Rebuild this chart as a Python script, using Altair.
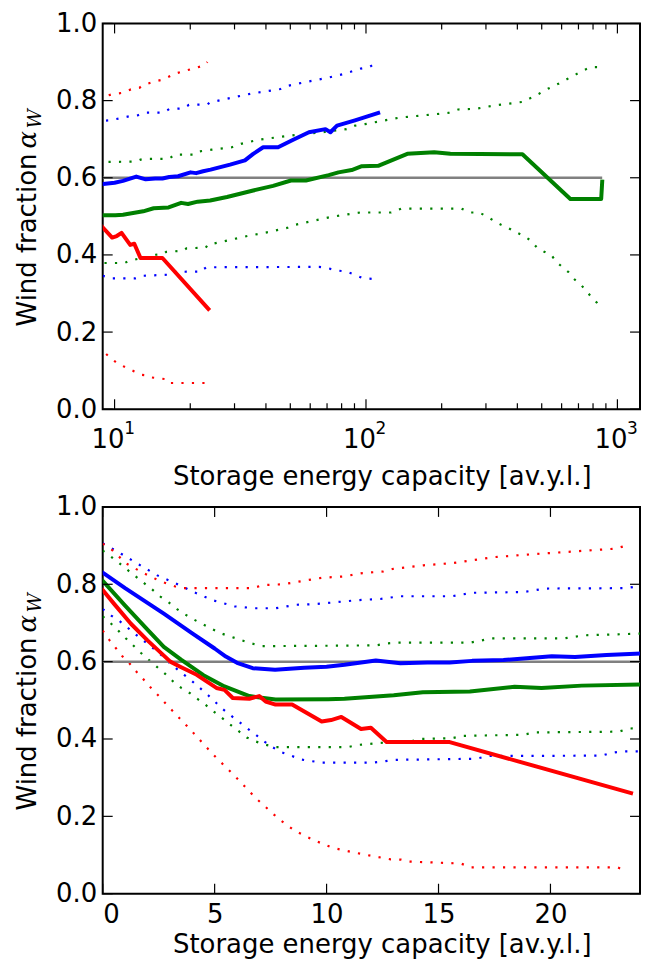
import altair as alt
import pandas as pd

# ---------------- data ----------------
# median curves (solid)
BLUE_X = [0, 1, 2, 2.73, 4, 5, 5.5, 6, 6.7, 7.7, 9, 10, 10.8, 12.2, 13.3, 14.5, 15.5, 16.5, 17.9, 20.06,
          21.1, 22.5, 24.1, 28.8, 33.0, 35.6, 39.0, 44.7, 51.1, 59.3, 69.0, 72.2, 76.7, 90.4, 111.8]
BLUE_Y = [0.83, 0.79, 0.752, 0.724, 0.673, 0.634, 0.613, 0.597, 0.583, 0.579, 0.584, 0.587, 0.592, 0.603, 0.596,
          0.598, 0.598, 0.602, 0.604, 0.614, 0.612, 0.617, 0.621, 0.634, 0.645, 0.662, 0.679, 0.679, 0.698, 0.718,
          0.726, 0.718, 0.735, 0.749, 0.768]

GREEN_X = [0, 1, 2, 2.73, 3.5, 4.5, 5.44, 6.55, 7.72, 10.07, 10.8, 13.0, 14.3, 16.4, 18.4, 19.6, 21.4, 24.0,
           28.0, 35.6, 42.7, 50.3, 57.7, 71.1, 77.7, 87.7, 96.3, 111.8, 146, 186.8, 216.6, 419, 650, 862, 870]
GREEN_Y = [0.809, 0.745, 0.683, 0.638, 0.605, 0.565, 0.536, 0.511, 0.502, 0.503, 0.504, 0.513, 0.521, 0.523,
           0.535, 0.532, 0.538, 0.541, 0.55, 0.567, 0.579, 0.593, 0.593, 0.607, 0.614, 0.62, 0.63, 0.631, 0.662,
           0.666, 0.662, 0.661, 0.545, 0.545, 0.59]

RED_X = [0, 0.5, 1.26, 2, 3.02, 3.46, 4.2, 4.64, 5.08, 5.44, 5.81, 6.55, 6.99, 7.28, 7.72, 8.46, 9.78, 10.2,
         10.66, 11.54, 11.98, 12.68, 15.5, 23.6]
RED_Y = [0.785, 0.75, 0.698, 0.655, 0.60, 0.587, 0.566, 0.549, 0.532, 0.527, 0.506, 0.504, 0.511, 0.497, 0.489,
         0.489, 0.445, 0.449, 0.457, 0.426, 0.429, 0.392, 0.392, 0.26]

# spread bands (dotted)
BLUE_HI_X = [0, 0.82, 1.62, 2.44, 3.27, 4.1, 4.96, 5.89, 6.81, 7.72, 8.65, 9.56, 10.48, 11.39, 12.4, 13.26, 15.58,
             16.5, 18.8, 19.76, 23.4, 23.9, 29.5, 34.9, 45.7, 49.3, 58.5, 69, 81.4, 95.3, 103, 110]
BLUE_HI_Y = [0.906, 0.879, 0.851, 0.823, 0.802, 0.779, 0.758, 0.743, 0.738, 0.738, 0.747, 0.749, 0.754, 0.759,
             0.762, 0.769, 0.769, 0.778, 0.78, 0.789, 0.79, 0.795, 0.808, 0.818, 0.83, 0.839, 0.849, 0.858, 0.869,
             0.883, 0.887, 0.898]
BLUE_LO_X = [0, 0.38, 0.75, 1.11, 1.48, 1.85, 2.22, 2.58, 2.92, 3.27, 3.64, 4.0, 4.34, 4.71, 5.0, 5.37, 5.74, 6.1,
             6.47, 6.84, 7.2, 7.58, 7.97, 8.41, 8.85, 9.31, 9.78, 12.1, 12.54, 13.0, 16.7, 17.2, 22.3, 22.7, 23.2,
             65, 70.1, 76, 83.3, 90, 97, 105.6]
BLUE_LO_Y = [0.736, 0.719, 0.705, 0.688, 0.67, 0.653, 0.636, 0.619, 0.60, 0.583, 0.566, 0.549, 0.532, 0.513,
             0.497, 0.477, 0.46, 0.444, 0.427, 0.411, 0.394, 0.379, 0.366, 0.357, 0.347, 0.343, 0.339, 0.339,
             0.342, 0.346, 0.349, 0.356, 0.357, 0.364, 0.368, 0.369, 0.366, 0.36, 0.357, 0.349, 0.34, 0.338]

GREEN_HI_X = [0, 0.38, 0.75, 1.11, 1.85, 2.22, 2.58, 2.95, 3.32, 3.68, 4.1, 4.93, 5.34, 6.22, 6.65, 7.13, 12.2,
              12.7, 13.15, 16.4, 16.86, 17.3, 20.6, 21.04, 21.5, 24.4, 29.3, 31.8, 37.8, 49.6, 65, 83.7, 90.4, 99,
              117, 136, 212, 233, 275, 328, 424, 455, 488, 519, 558, 597, 640, 684, 735, 787, 861]
GREEN_HI_Y = [0.887, 0.871, 0.854, 0.837, 0.803, 0.786, 0.768, 0.753, 0.736, 0.722, 0.708, 0.683, 0.672, 0.655,
              0.647, 0.64, 0.642, 0.647, 0.649, 0.649, 0.654, 0.66, 0.66, 0.664, 0.668, 0.673, 0.679, 0.688,
              0.699, 0.709, 0.717, 0.726, 0.735, 0.739, 0.748, 0.756, 0.768, 0.777, 0.779, 0.788, 0.797, 0.808,
              0.818, 0.828, 0.838, 0.847, 0.858, 0.868, 0.879, 0.887, 0.887]
GREEN_LO_X = [0, 0.38, 0.75, 1.04, 1.38, 1.7, 2.07, 2.41, 2.78, 3.14, 3.51, 3.88, 4.2, 4.6, 4.96, 5.34, 5.7, 6.06,
              6.43, 6.81, 7.28, 7.72, 10.95, 11.44, 11.9, 12.4, 13.7, 14.2, 15.6, 16.05, 18.8, 19.3, 23.06, 23.5,
              24.3, 28.8, 34.3, 40.8, 48.5, 52.2, 62.1, 73.4, 94.8, 126, 138, 240, 258, 282, 302, 322, 345, 370,
              395, 424, 451, 479, 512, 546, 571, 606, 640, 671, 710, 748, 787, 827, 869]
GREEN_LO_Y = [0.717, 0.698, 0.677, 0.66, 0.641, 0.623, 0.604, 0.587, 0.569, 0.549, 0.532, 0.519, 0.505, 0.488,
              0.471, 0.454, 0.437, 0.421, 0.404, 0.394, 0.385, 0.379, 0.379, 0.385, 0.387, 0.39, 0.393, 0.40,
              0.402, 0.408, 0.411, 0.417, 0.419, 0.427, 0.428, 0.439, 0.45, 0.459, 0.47, 0.478, 0.489, 0.499,
              0.51, 0.51, 0.52, 0.52, 0.51, 0.51, 0.50, 0.489, 0.478, 0.469, 0.459, 0.449, 0.438, 0.419, 0.408,
              0.40, 0.382, 0.368, 0.355, 0.338, 0.325, 0.309, 0.291, 0.277, 0.26]

RED_HI_X = [0, 0.38, 1.04, 1.85, 2.61, 3.46, 6.69, 7.18, 8.06, 8.97, 9.82, 10.73, 11.61, 12.54, 12.98, 14.33,
            15.65, 17.44, 19.25, 21.08, 22.88, 23.4]
RED_HI_Y = [0.905, 0.891, 0.854, 0.828, 0.807, 0.79, 0.79, 0.798, 0.80, 0.809, 0.817, 0.82, 0.829, 0.833, 0.84,
            0.849, 0.855, 0.87, 0.878, 0.885, 0.892, 0.90]
RED_LO_X = [0, 0.31, 0.6, 0.89, 1.22, 1.51, 1.81, 2.11, 2.41, 3.05, 4.0, 4.93, 5.89, 6.84, 7.87, 8.6, 9.41, 10.25,
            11.1, 11.98, 12.86, 13.33, 13.74, 16.0, 16.46, 23.0, 23.4]
RED_LO_Y = [0.68, 0.655, 0.634, 0.613, 0.594, 0.574, 0.555, 0.535, 0.517, 0.477, 0.419, 0.36, 0.305, 0.247, 0.193,
            0.162, 0.139, 0.119, 0.108, 0.098, 0.089, 0.088, 0.083, 0.078, 0.068, 0.068, 0.058]

REF_LEVEL = 0.6
REF_X = [0, 870]

TOP_MAJOR = [10, 100, 1000]
TOP_MINOR = [20, 30, 40, 50, 60, 70, 80, 90, 200, 300, 400, 500, 600, 700, 800, 900]
TOP_EXP = ["1", "2", "3"]
BOT_MAJOR = [0, 5, 10, 15, 20]
Y_MAJOR = [0, 0.2, 0.4, 0.6, 0.8, 1.0]

SERIES = ["blue", "green", "red"]
COLORS = ["#0000ff", "#008000", "#ff0000"]

# ---------------- tables ----------------
solid = pd.concat([
    pd.DataFrame({"x": BLUE_X, "y": BLUE_Y, "series": "blue"}),
    pd.DataFrame({"x": GREEN_X, "y": GREEN_Y, "series": "green"}),
    pd.DataFrame({"x": RED_X, "y": RED_Y, "series": "red"}),
])
dotted = pd.concat([
    pd.DataFrame({"x": BLUE_HI_X, "y": BLUE_HI_Y, "series": "blue", "band": "blue_hi"}),
    pd.DataFrame({"x": BLUE_LO_X, "y": BLUE_LO_Y, "series": "blue", "band": "blue_lo"}),
    pd.DataFrame({"x": GREEN_HI_X, "y": GREEN_HI_Y, "series": "green", "band": "green_hi"}),
    pd.DataFrame({"x": GREEN_LO_X, "y": GREEN_LO_Y, "series": "green", "band": "green_lo"}),
    pd.DataFrame({"x": RED_HI_X, "y": RED_HI_Y, "series": "red", "band": "red_hi"}),
    pd.DataFrame({"x": RED_LO_X, "y": RED_LO_Y, "series": "red", "band": "red_lo"}),
])

W = 539
FONT = "DejaVu Sans"
color_scale = alt.Scale(domain=SERIES, range=COLORS)
y_scale = alt.Scale(domain=[0, 1], nice=False, zero=False)
Y_AXIS = alt.Axis(values=Y_MAJOR, format=".1f", title=None, labelPadding=6, labelBaseline="middle")


def panel(x_scale, x_axis, H, log, ref_x_enc, ref_x2_enc, extra):
    src_s = alt.Chart(solid)
    src_d = alt.Chart(dotted)
    if log:
        src_s = src_s.transform_filter("datum.x > 0")
        src_d = src_d.transform_filter("datum.x > 0")

    def X(field):
        return alt.X(field, scale=x_scale, axis=x_axis)

    def Y(field):
        return alt.Y(field, scale=y_scale, axis=Y_AXIS)

    dots = src_d.mark_line(strokeWidth=2.2, strokeDash=[2.2, 8.3], clip=True).encode(
        x=X("x:Q"), y=Y("y:Q"),
        color=alt.Color("series:N", scale=color_scale, legend=None),
        detail="band:N",
    )
    ref = alt.Chart(pd.DataFrame({"lvl": [REF_LEVEL]})).mark_rule(
        color="#808080", strokeWidth=2.5, clip=True).encode(
        x=ref_x_enc, x2=ref_x2_enc, y=Y("lvl:Q"),
    )
    lines = src_s.mark_line(strokeWidth=4, clip=True, strokeJoin="round", strokeCap="square").encode(
        x=X("x:Q"), y=Y("y:Q"),
        color=alt.Color("series:N", scale=color_scale, legend=None),
        detail="series:N",
    )

    def xticks(vals, length):
        d = alt.Chart(pd.DataFrame({"t": vals}))
        a = d.mark_rule(color="black", strokeWidth=1.2).encode(
            x=X("t:Q"), y=alt.value(H), y2=alt.value(H - length))
        b = d.mark_rule(color="black", strokeWidth=1.2).encode(
            x=X("t:Q"), y=alt.value(0), y2=alt.value(length))
        return [a, b]

    yd = alt.Chart(pd.DataFrame({"t": Y_MAJOR}))
    ytl = yd.mark_rule(color="black", strokeWidth=1.2).encode(
        y=Y("t:Q"), x=alt.value(0), x2=alt.value(10))
    ytr = yd.mark_rule(color="black", strokeWidth=1.2).encode(
        y=Y("t:Q"), x=alt.value(W), x2=alt.value(W - 10))

    c = H / 2
    t1 = alt.Chart(pd.DataFrame({"t": ["Wind fraction"]})).mark_text(
        font=FONT, fontSize=26, angle=270, align="right",
        baseline="alphabetic", color="black").encode(
        text="t:N", x=alt.value(-67), y=alt.value(c - 63))
    t2 = alt.Chart(pd.DataFrame({"t": ["α"]})).mark_text(
        font="DejaVu Serif", fontStyle="italic", fontSize=26, angle=270, align="left",
        baseline="alphabetic", color="black").encode(text="t:N", x=alt.value(-67), y=alt.value(c - 68))
    t3 = alt.Chart(pd.DataFrame({"t": ["W"]})).mark_text(
        font="DejaVu Serif", fontStyle="italic", fontSize=19, angle=270, align="left",
        baseline="alphabetic", color="black").encode(text="t:N", x=alt.value(-62), y=alt.value(c - 88))

    layers = [dots, ref, lines]
    if log:
        layers += xticks(TOP_MAJOR, 10) + xticks(TOP_MINOR, 6)
    else:
        layers += xticks(BOT_MAJOR, 10)
    layers += [ytl, ytr, t1, t2, t3] + extra
    return alt.layer(*layers).properties(width=W, height=H)


TITLE = "Storage energy capacity [av.y.l.]"

# ---- top panel (log x) ----
H1 = 387
top_x = alt.Scale(type="log", domain=[8.97, 1230], nice=False)
top_axis = alt.Axis(values=TOP_MAJOR, labelExpr="'10'", labelOffset=-7, labelPadding=38,
                    labelBaseline="alphabetic", title=TITLE,
                    titleX=280, titleY=76, titleBaseline="alphabetic")
exp_layer = alt.Chart(pd.DataFrame({"x": TOP_MAJOR, "t": TOP_EXP})).mark_text(
    font=FONT, fontSize=17, baseline="alphabetic", align="center", dx=15, color="black").encode(
    x=alt.X("x:Q", scale=top_x, axis=top_axis), y=alt.value(H1 + 25), text="t:N")
top = panel(top_x, top_axis, H1, True,
            alt.X(datum=REF_X[1], type="quantitative", scale=top_x, axis=top_axis), alt.value(0),
            [exp_layer])

# ---- bottom panel (linear x) ----
H2 = 388
bot_x = alt.Scale(domain=[0, 24], nice=False, zero=False)
bot_axis = alt.Axis(values=BOT_MAJOR, format="d", labelPadding=29, labelBaseline="alphabetic",
                    title=TITLE, titleX=280, titleY=59, titleBaseline="alphabetic")
bottom = panel(bot_x, bot_axis, H2, False,
               alt.X(datum=REF_X[0], type="quantitative", scale=bot_x, axis=bot_axis),
               alt.X2(datum=REF_X[1]), [])

chart = alt.vconcat(top, bottom, spacing=2).properties(
    padding={"left": 6, "top": 0, "right": 0, "bottom": 0}
).configure_view(stroke="black", strokeWidth=2).configure_axis(
    labelFont=FONT, labelFontSize=26, labelColor="black", ticks=False, tickSize=0,
    domain=False, grid=False, titleFont=FONT, titleFontSize=26, titleFontWeight="normal",
    titleColor="black",
)

chart.save("out.html", embed_options={"renderer": "svg", "actions": False})
